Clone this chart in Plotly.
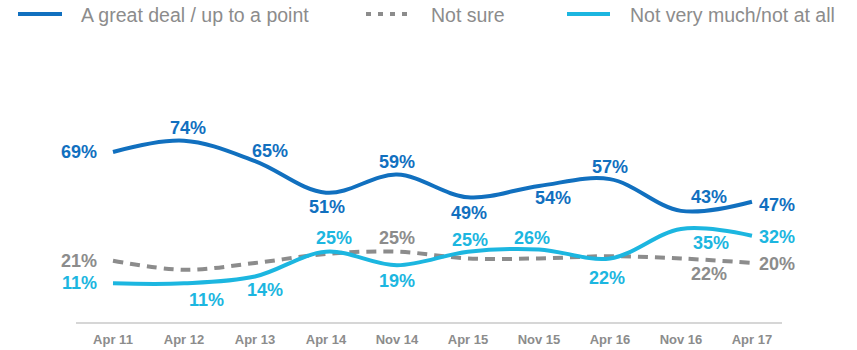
import plotly.graph_objects as go

categories = ["Apr 11", "Apr 12", "Apr 13", "Apr 14", "Nov 14",
              "Apr 15", "Nov 15", "Apr 16", "Nov 16", "Apr 17"]
great_deal = [69, 74, 65, 51, 59, 49, 54, 57, 43, 47]
not_sure = [21, 17, 20, 24, 25, 22, 22, 23, 22, 20]
not_much = [11, 11, 14, 25, 19, 25, 26, 22, 35, 32]

# which "Not sure" values carry a label
sure_show = [True, False, False, False, True, False, False, False, True, True]

# label offsets in pixels (dx, dy downwards); "L" = placed left of the start point
great_off = ["L", (4, -13), (15, -10), (1, 14), (0, -13), (1, 16), (14, 12), (0, -12), (28, -14), (25, 3)]
much_off = ["L", (23, 17), (10, 13), (8, -14), (0, 16), (2, -12), (-7, -11), (-3, 20), (30, 14), (25, 1)]
sure_off = ["L", None, None, None, (0, -14), None, None, None, (28, 16), (25, 1)]

DARK = "#1170bf"
LIGHT = "#1cb6e0"
GRAY = "#8c8c8c"
FONT = "Liberation Sans, Arial, sans-serif"

L, R, T, B = 76, 782, 60, 322
W, H = 857, 350


def px(x):
    return (x - L) / (R - L)


def py(y):
    return (B - y) / (B - T)


fig = go.Figure()

fig.add_trace(go.Scatter(
    x=categories, y=not_sure, mode="lines",
    line=dict(color=GRAY, width=4, dash="10px,7px", shape="spline"),
    showlegend=False, name="Not sure", hoverinfo="x+y"))
fig.add_trace(go.Scatter(
    x=categories, y=not_much, mode="lines",
    line=dict(color=LIGHT, width=4, shape="spline"),
    showlegend=False, name="Not very much/not at all", hoverinfo="x+y"))
fig.add_trace(go.Scatter(
    x=categories, y=great_deal, mode="lines",
    line=dict(color=DARK, width=4, shape="spline"),
    showlegend=False, name="A great deal / up to a point", hoverinfo="x+y"))

annotations = []


def add_labels(values, offsets, color, show=None):
    for i, (cat, v, off) in enumerate(zip(categories, values, offsets)):
        if show is not None and not show[i]:
            continue
        if off is None:
            continue
        a = dict(x=cat, y=v, xref="x", yref="y", text=f"{v}%", showarrow=False,
                 font=dict(family=FONT, size=18, color=color, weight="bold"),
                 yanchor="middle")
        if off == "L":
            a.update(xanchor="right", xshift=-14, yshift=0)
        else:
            a.update(xanchor="center", xshift=off[0], yshift=-off[1])
        annotations.append(a)


add_labels(great_deal, great_off, DARK)
add_labels(not_much, much_off, LIGHT)
add_labels(not_sure, sure_off, GRAY, sure_show)

# legend (manual)
legend_items = [
    ("A great deal / up to a point", DARK, "solid", 18, 62, 79),
    ("Not sure", GRAY, "5px,7px", 366, 410, 429),
    ("Not very much/not at all", LIGHT, "solid", 567, 610, 628),
]
shapes = []
for label, color, dash, x0, x1, tx in legend_items:
    shapes.append(dict(type="line", xref="paper", yref="paper",
                       x0=px(x0), x1=px(x1), y0=py(14), y1=py(14),
                       line=dict(color=color, width=4, dash=dash)))
    annotations.append(dict(xref="paper", yref="paper", x=px(tx), y=py(15),
                            xanchor="left", yanchor="middle", showarrow=False,
                            text=label, font=dict(family=FONT, size=19.5, color=GRAY)))

fig.update_layout(
    width=W, height=H,
    margin=dict(l=L, r=W - R, t=T, b=H - B, autoexpand=False),
    paper_bgcolor="white", plot_bgcolor="white",
    shapes=shapes, annotations=annotations,
    xaxis=dict(type="category", range=[-0.521, 9.423], showgrid=False, zeroline=False,
               showline=True, linecolor="#d6d6d6", linewidth=2, automargin=False,
               ticks="", ticklabelstandoff=4,
               tickfont=dict(family=FONT, size=13, color=GRAY, weight="bold")),
    yaxis=dict(range=[-6.06, 109.6], visible=False, showgrid=False, zeroline=False,
               automargin=False),
)

fig.write_html("out.html")
